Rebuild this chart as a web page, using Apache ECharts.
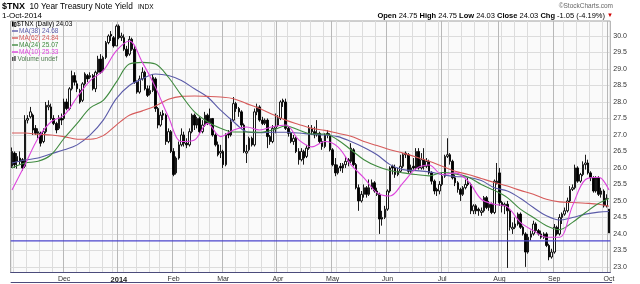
<!DOCTYPE html>
<html><head><meta charset="utf-8">
<script src="https://cdn.jsdelivr.net/npm/echarts@6/dist/echarts.min.js"></script>
<style>html,body{margin:0;padding:0;background:#fff}#c{width:640px;height:284px}</style>
</head><body><div id="c"></div>
<script>
// ---------- categories (trading days) ----------
const firstDay = '2013-11-01', lastDay = '2014-10-01';
const holidays = ['2013-11-28','2013-12-25','2014-01-01','2014-01-20','2014-02-17','2014-04-18','2014-05-26','2014-07-04','2014-09-01'];
const monthNames = ['Jan','Feb','Mar','Apr','May','Jun','Jul','Aug','Sep','Oct','Nov','Dec'];

// ---------- OHLC ($TNX x10) ----------
const opens = [
26.05,26.45,26.2,26.3,26.25,26.05,27.45,27.55,27.6,27.2,
27.05,27.05,26.8,27.1,27.85,27.85,27.5,27.35,27.2,27.5,
27.5,28.0,27.8,28.4,28.8,28.55,28.35,28.05,28.55,28.8,
28.75,28.8,28.4,28.9,29.3,28.95,29.35,29.8,30.05,29.95,
29.7,30.3,29.95,29.95,29.6,29.45,29.9,29.6,28.6,28.3,
28.7,28.9,28.4,28.25,28.35,28.7,27.8,27.3,27.65,27.6,
26.8,27.1,26.5,25.85,26.3,26.7,27.0,26.75,26.7,27.1,
27.6,27.3,27.5,27.1,27.3,27.6,27.35,27.5,27.0,26.7,
26.45,26.5,26.1,27.05,27.0,27.45,27.95,27.8,27.7,27.3,
26.45,26.55,26.9,26.7,27.7,27.85,27.45,27.35,27.45,26.95,
26.8,27.2,27.3,27.5,28.05,28.0,27.2,27.05,26.8,26.9,
26.5,26.25,26.5,26.35,26.6,27.2,27.1,27.0,27.05,26.8,
26.65,27.05,27.0,26.55,26.1,25.85,26.05,26.0,26.1,26.25,
26.2,26.55,26.1,25.4,25.0,25.2,25.4,25.2,25.4,25.55,
25.3,25.2,24.45,24.5,24.75,25.3,26.05,26.0,25.8,25.9,
26.05,26.45,26.4,25.9,26.05,26.0,26.5,26.0,26.25,26.05,
26.2,25.85,25.6,25.35,25.3,25.5,25.75,26.35,26.4,26.2,
25.7,25.55,25.35,25.2,25.4,25.55,25.5,24.7,24.85,24.75,
24.65,24.7,25.1,24.8,24.9,24.65,25.55,25.85,24.95,24.85,
24.9,24.7,24.15,24.2,24.3,24.6,24.2,24.0,23.45,23.9,
24.0,24.3,24.1,24.0,23.9,24.0,23.65,23.3,23.45,24.2,
24.0,24.5,24.6,24.7,25.0,25.35,25.4,26.0,25.6,25.8,
26.1,26.15,25.85,25.7,25.3,25.7,25.2,25.3,24.85,24.75];
const highs = [
26.62,26.5,26.45,26.5,26.3,27.6,27.6,27.85,27.65,27.3,
27.2,27.1,27.2,28.0,28.05,27.95,27.6,27.4,27.6,27.65,
28.1,28.1,28.45,28.95,28.9,28.65,28.4,28.6,28.9,28.85,
28.9,28.85,28.95,29.4,29.45,29.4,29.85,30.05,30.15,30.0,
30.35,30.35,30.1,30.05,29.7,30.0,29.95,29.7,28.65,28.8,
29.05,28.95,28.5,28.5,28.85,28.75,27.85,27.7,27.75,27.65,
27.2,27.15,26.6,26.35,26.8,27.2,27.1,26.9,27.2,27.65,
27.65,27.55,27.55,27.45,27.7,27.65,27.8,27.5,27.05,26.8,
26.7,26.55,27.05,27.15,27.5,28.15,28.0,27.85,27.75,27.35,
26.7,26.95,26.95,27.8,27.95,27.9,27.55,27.5,27.5,27.0,
27.3,27.65,27.6,28.05,28.1,28.1,27.25,27.1,27.0,26.95,
26.6,26.6,26.55,26.7,27.3,27.3,27.25,27.45,27.1,26.9,
27.05,27.15,27.05,26.6,26.3,26.1,26.15,26.15,26.35,26.3,
26.75,26.6,26.15,25.5,25.3,25.5,25.45,25.65,25.65,25.6,
25.4,25.25,24.7,24.85,25.35,26.05,26.1,26.1,26.0,26.4,
26.45,26.5,26.45,26.1,26.3,26.6,26.6,26.45,26.6,26.3,
26.25,25.9,25.65,25.4,25.6,25.85,26.4,26.9,26.45,26.25,
25.8,25.6,25.4,25.45,25.65,25.7,25.55,24.9,24.9,24.8,
24.8,25.15,25.15,25.0,24.95,25.65,26.15,26.0,25.0,24.95,
25.0,24.75,24.35,24.5,24.65,24.65,24.25,24.05,24.0,24.1,
24.4,24.35,24.15,24.1,24.05,24.05,23.7,23.55,24.3,24.25,
24.6,24.65,24.8,25.1,25.45,25.5,26.1,26.05,25.85,26.2,
26.4,26.25,25.9,25.75,25.75,25.75,25.4,25.35,25.2,24.75];
const lows = [
26.0,26.0,25.98,26.1,25.92,26.0,27.35,27.5,27.0,27.0,
26.9,26.65,26.75,27.05,27.75,27.45,27.3,27.05,27.15,27.3,
27.45,27.75,27.75,28.35,28.5,28.3,27.95,28.0,28.5,28.6,
28.7,28.35,28.3,28.85,28.85,28.9,29.3,29.75,29.85,29.65,
29.7,29.9,29.85,29.55,29.35,29.4,29.55,28.55,28.25,28.25,
28.65,28.35,28.15,28.2,28.3,27.7,27.2,27.25,27.45,26.7,
26.75,26.45,25.75,25.8,26.25,26.65,26.65,26.6,26.65,27.05,
27.15,27.2,27.05,27.05,27.25,27.3,27.3,26.95,26.65,26.35,
26.3,26.0,26.05,26.9,26.95,27.4,27.7,27.55,27.2,26.45,
26.15,26.5,26.65,26.65,27.6,27.4,27.3,27.3,26.6,26.7,
26.75,27.05,27.25,27.45,27.85,27.15,26.95,26.75,26.7,26.45,
26.1,26.2,26.1,26.3,26.55,27.0,26.9,26.95,26.75,26.55,
26.6,26.9,26.5,26.05,25.75,25.8,25.9,25.85,26.0,26.05,
26.15,26.05,25.35,24.7,24.95,25.1,25.1,25.15,25.35,25.25,
25.15,24.0,24.25,24.45,24.7,25.25,25.8,25.7,25.75,25.85,
26.0,26.3,25.85,25.85,25.95,25.95,25.95,25.95,25.95,26.0,
25.8,25.5,25.2,25.15,25.2,25.45,25.7,26.3,26.1,25.65,
25.45,25.25,25.0,25.15,25.35,25.45,24.6,24.6,24.6,24.55,
24.55,24.65,24.75,24.7,24.6,24.6,25.5,24.85,24.65,24.6,
22.97,24.1,24.0,24.15,24.25,24.15,23.95,23.0,23.4,23.8,
23.95,24.05,23.95,23.85,23.85,23.6,23.2,23.25,23.4,23.95,
23.95,24.3,24.55,24.65,24.95,25.3,25.35,25.55,25.55,25.75,
25.95,25.8,25.6,25.25,25.25,25.15,25.1,24.8,24.8,24.03];
const closes = [
26.5,26.1,26.35,26.2,26.0,27.45,27.5,27.7,27.15,27.05,
27.1,26.75,27.1,27.9,27.9,27.5,27.35,27.15,27.5,27.45,
28.0,27.8,28.4,28.8,28.6,28.4,28.0,28.55,28.85,28.7,
28.8,28.4,28.9,29.3,28.9,29.35,29.8,30.0,30.0,29.7,
30.3,29.95,30.0,29.6,29.4,29.9,29.6,28.6,28.3,28.7,
28.9,28.4,28.2,28.35,28.75,27.8,27.3,27.6,27.6,26.8,
27.1,26.5,25.8,26.3,26.7,27.0,26.75,26.7,27.1,27.6,
27.3,27.5,27.1,27.3,27.6,27.35,27.5,27.0,26.7,26.4,
26.5,26.1,27.0,27.0,27.4,27.95,27.8,27.7,27.3,26.5,
26.5,26.9,26.7,27.7,27.85,27.45,27.35,27.45,26.95,26.8,
27.2,27.25,27.5,28.0,28.0,27.2,27.05,26.8,26.9,26.5,
26.25,26.5,26.3,26.6,27.2,27.1,27.0,27.05,26.8,26.65,
27.0,27.0,26.55,26.1,25.85,26.0,26.0,26.1,26.2,26.2,
26.6,26.1,25.4,25.0,25.2,25.4,25.2,25.4,25.55,25.3,
25.2,24.45,24.5,24.75,25.3,26.0,26.0,25.8,25.9,26.05,
26.4,26.4,25.9,26.0,26.0,26.5,26.0,26.25,26.05,26.2,
25.85,25.6,25.3,25.3,25.5,25.75,26.35,26.4,26.2,25.7,
25.55,25.35,25.2,25.4,25.5,25.5,24.7,24.85,24.7,24.7,
24.7,25.1,24.8,24.9,24.65,25.6,25.6,24.95,24.85,24.9,
24.7,24.2,24.2,24.3,24.6,24.2,24.0,23.45,23.9,24.0,
24.3,24.1,24.0,23.9,24.0,23.65,23.3,23.45,24.2,24.0,
24.5,24.6,24.7,25.0,25.35,25.4,26.0,25.6,25.8,26.1,
26.15,25.85,25.7,25.3,25.7,25.2,25.3,24.85,25.08,24.03];

const maSampleIdx = [0,5,10,15,20,25,30,35,40,45,50,55,60,65,70,75,80,85,90,95,100,105,110,115,120,125,130,135,140,145,150,155,160,165,170,175,180,185,190,195,200,205,210,215,220,225,229];
const ma10 = [25.33,26.1,26.9,27.4,27.6,28.15,28.65,28.95,29.55,29.85,29.2,28.45,27.55,26.8,26.85,27.35,26.95,27.15,27.24,27.15,27.25,27.3,26.85,26.64,26.8,26.64,26.1,25.7,25.25,25.15,25.55,25.98,26.09,25.8,25.85,25.6,25.05,24.9,24.82,24.35,24.1,23.9,23.9,24.85,25.65,25.72,25.33];
const ma24 = [26.0,26.15,26.2,26.4,26.9,27.35,27.82,28.05,28.6,29.15,29.2,29.15,28.75,28.2,27.7,27.4,27.2,27.09,27.09,27.08,27.15,27.27,27.15,27.03,27.03,26.85,26.55,26.25,26.05,25.92,25.85,25.8,25.76,25.86,25.82,25.72,25.5,25.32,25.1,24.75,24.5,24.25,24.13,24.35,24.65,24.92,25.07];
const ma38 = [26.15,26.24,26.3,26.43,26.55,26.7,27.0,27.45,28.1,28.5,28.7,28.85,28.8,28.65,28.4,28.15,27.75,27.4,27.1,27.07,27.08,27.08,27.06,27.02,27.0,26.95,26.8,26.62,26.4,26.1,25.95,25.92,25.88,25.8,25.74,25.72,25.62,25.4,25.3,25.08,24.8,24.55,24.42,24.5,24.6,24.66,24.68];
const ma62 = [27.06,27.06,27.02,27.0,26.95,26.87,26.87,26.98,27.3,27.6,27.73,27.88,28.08,28.17,28.18,28.17,28.15,28.1,27.95,27.8,27.62,27.45,27.32,27.2,27.14,27.05,26.96,26.8,26.68,26.55,26.45,26.33,26.2,26.05,25.9,25.8,25.68,25.56,25.45,25.32,25.2,25.05,24.97,24.95,24.93,24.9,24.84];

// ---------- axis ticks / levels ----------
const yTickValues = [23.0,23.5,24.0,24.5,25.0,25.5,26.0,26.5,27.0,27.5,28.0,28.5,29.0,29.5,30.0];
const supportLevels = [23.79];

// ---------- build ----------
function tradingDays(){
  const out=[]; let t=Date.parse(firstDay+'T00:00:00Z'); const end=Date.parse(lastDay+'T00:00:00Z');
  while(t<=end){ const d=new Date(t); const wd=d.getUTCDay(); const s=d.toISOString().slice(0,10);
    if(wd!==0&&wd!==6&&holidays.indexOf(s)<0) out.push(s); t+=86400000; }
  return out;
}
const dates = tradingDays();
const wday = s => new Date(s+'T00:00:00Z').getUTCDay();
const monthStart = dates.map((s,i)=> i>0 && s.slice(5,7)!==dates[i-1].slice(5,7));
const weekStart = dates.map((s,i)=> i>0 && wday(s) < wday(dates[i-1]));

const FF = '"Liberation Sans", Arial, Helvetica, sans-serif';
const n = closes.length-1;
const last = v => v[v.length-1];
const chg = closes[n]-closes[n-1];
const pct = chg/closes[n-1]*100;
const f2 = v => v.toFixed(2);
const lastDate = new Date(dates[n]+'T00:00:00Z');
const dateStr = lastDate.getUTCDate()+'-'+monthNames[lastDate.getUTCMonth()]+'-'+lastDate.getUTCFullYear();

function txt(x,y,text,size,color,weight,align){
  return {type:'text',x:x,y:y,z:100,silent:true,style:{text:text,fontSize:size,fontFamily:FF,fontWeight:weight||'normal',fill:color,align:align||'left',verticalAlign:'middle'}};
}
const SUPPORT_COLOR = '#4b44cc';
const maDefs = [
  {name:'MA(38)',data:ma38,color:'#5a5aa8'},
  {name:'MA(62)',data:ma62,color:'#d65a5a'},
  {name:'MA(24)',data:ma24,color:'#3f8a3f'},
  {name:'MA(10)',data:ma10,color:'#dd44dd'}
];
const graphics = [
  txt(2,7,'$TNX',9,'#000','bold'),
  txt(29.5,7,'10 Year Treasury Note Yield',8.3,'#000'),
  txt(138,7.5,'INDX',6.5,'#000'),
  txt(2,16,dateStr,8,'#000'),
  txt(613,6,'\u00a9StockCharts.com',6.5,'#666','normal','right'),
  {type:'text',x:613,y:15.5,z:100,silent:true,style:{
    text:'{b|Open} '+f2(opens[n])+' {b|High} '+f2(highs[n])+' {b|Low} '+f2(lows[n])+' {b|Close} '+f2(closes[n])+' {b|Chg} '+f2(chg)+' ('+f2(pct)+'%) {r|\u25bc}',
    fontSize:7.5,fontFamily:FF,fill:'#000',align:'right',verticalAlign:'middle',
    rich:{b:{fontWeight:'bold',fontSize:7.5,fontFamily:FF,fill:'#000'},r:{fontSize:6,fill:'#d00000',fontFamily:FF}}}},
  // legend
  {type:'rect',z:100,silent:true,shape:{x:12,y:21.5,width:1.6,height:5},style:{fill:'#000'}},
  {type:'rect',z:100,silent:true,shape:{x:14.4,y:22.5,width:1.6,height:4},style:{fill:'#fff',stroke:'#000',lineWidth:0.8}},
  txt(17,24.5,'$TNX (Daily) '+f2(closes[n]),6.5,'#000'),
  txt(17.5,59,'Volume undef',6.5,'#4f7a4f'),
  {type:'rect',z:100,silent:true,shape:{x:12,y:57,width:1.5,height:4},style:{fill:'#4f4f4f'}},
  {type:'rect',z:100,silent:true,shape:{x:14.2,y:56,width:1.5,height:5},style:{fill:'#4f4f4f'}},
  // bottom rule
  {type:'line',z:100,silent:true,shape:{x1:10.7,y1:282.5,x2:612,y2:282.5},style:{stroke:'#4b4b7b',lineWidth:1.2}}
];
maDefs.forEach((m,k)=>{
  const y = 31+7*k;
  graphics.push({type:'line',z:100,silent:true,shape:{x1:12,y1:y,x2:18,y2:y},style:{stroke:m.color,lineWidth:1.4}});
  graphics.push(txt(19,y,m.name+' '+f2(last(m.data)),6.5,m.color));
});

const series = [{
  type:'candlestick',xAxisIndex:0,yAxisIndex:0,z:3,
  data:dates.map((d,i)=>[opens[i],closes[i],lows[i],highs[i]]),
  barWidth:2,
  itemStyle:{color:'#ffffff',color0:'#000000',borderColor:'#000000',borderColor0:'#000000',borderWidth:0.9}
}];
// horizontal support level(s), spanning the full width via a hidden 0..1 value axis
supportLevels.forEach(v=>{
  series.push({type:'line',name:'support',xAxisIndex:2,yAxisIndex:0,z:5,showSymbol:false,silent:true,
    data:[[0,v],[1,v]],lineStyle:{color:SUPPORT_COLOR,width:1.2,type:'solid'},itemStyle:{color:SUPPORT_COLOR}});
});
maDefs.forEach(m=>{
  series.push({type:'line',name:m.name,xAxisIndex:0,z:4,smooth:0.35,showSymbol:false,
    data:maSampleIdx.map((ix,k)=>[ix,m.data[k]]),
    lineStyle:{color:m.color,width:1.1},itemStyle:{color:m.color}});
});

const chart = echarts.init(document.getElementById('c'),null,{renderer:'canvas'});
chart.setOption({
  animation:false,
  backgroundColor:'#ffffff',
  grid:{left:10.7,right:29.7,top:21,bottom:11.5,show:true,backgroundColor:'#fafafa',borderColor:'#a0a0a0',borderWidth:1},
  xAxis:[
    {type:'category',data:dates,boundaryGap:true,axisLine:{show:false},axisTick:{show:false},axisLabel:{show:false},
     splitLine:{show:true,interval:(i)=>weekStart[i],lineStyle:{color:'#dcdcdc',width:1}}},
    {type:'category',data:dates,boundaryGap:true,position:'bottom',
     axisLine:{show:true,lineStyle:{color:'#4b4b7b',width:1}},axisTick:{show:false},
     axisLabel:{interval:(i)=>monthStart[i],fontSize:7,color:'#333',margin:3,fontFamily:FF,
       formatter:(v)=>{const m=parseInt(v.slice(5,7),10)-1; return m===0?'{y|'+v.slice(0,4)+'}':monthNames[m];},
       rich:{y:{fontWeight:'bold',fontSize:7.5,color:'#222',fontFamily:FF}}},
     splitLine:{show:true,interval:(i)=>monthStart[i],lineStyle:{color:'#b8b8b8',width:1}}},
    {type:'value',min:0,max:1,show:false,splitLine:{show:false}}
  ],
  yAxis:{type:'value',position:'right',min:22.83,max:30.455,
    axisLine:{show:false},axisTick:{show:false,customValues:yTickValues},
    axisLabel:{customValues:yTickValues,formatter:(v)=>v.toFixed(1),fontSize:7,color:'#333',margin:3,fontFamily:FF},
    splitLine:{show:true,lineStyle:{color:'#dcdcdc',width:1}}},
  series:series,
  graphic:graphics
});
</script>
</body></html>
